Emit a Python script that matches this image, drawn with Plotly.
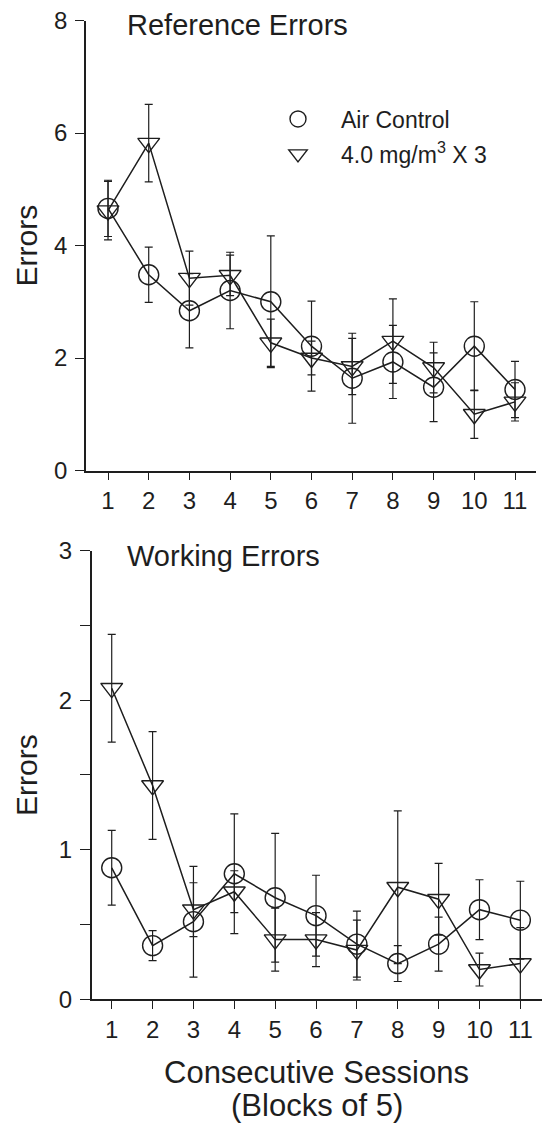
import plotly.graph_objects as go

W, H = 542, 1123

sessions = [1, 2, 3, 4, 5, 6, 7, 8, 9, 10, 11]
tick_labels = ["1", "2", "3", "4", "5", "6", "7", "8", "9", "10", "11"]

# Reference errors
ref_air = [4.66, 3.48, 2.84, 3.20, 3.00, 2.21, 1.64, 1.93, 1.48, 2.21, 1.44]
ref_air_err = [0.50, 0.49, 0.66, 0.68, 1.17, 0.80, 0.80, 0.65, 0.61, 0.79, 0.50]
ref_exp = [4.62, 5.82, 3.42, 3.47, 2.27, 2.00, 1.85, 2.30, 1.83, 1.00, 1.22]
ref_exp_err = [0.52, 0.69, 0.48, 0.36, 0.42, 0.30, 0.50, 0.75, 0.45, 0.43, 0.34]

# Working errors
work_air = [0.88, 0.36, 0.52, 0.84, 0.68, 0.56, 0.37, 0.24, 0.37, 0.60, 0.53]
work_air_err = [0.25, 0.10, 0.37, 0.40, 0.43, 0.27, 0.22, 0.12, 0.18, 0.20, 0.26]
work_exp = [2.08, 1.43, 0.60, 0.72, 0.40, 0.40, 0.33, 0.75, 0.67, 0.20, 0.24]
work_exp_err = [0.36, 0.36, 0.18, 0.14, 0.21, 0.18, 0.20, 0.51, 0.24, 0.11, 0.24]

name_air = "Air Control"
name_exp = "4.0 mg/m<sup>3</sup> X 3"

INK = "#1e1e1e"
FONT = "Liberation Sans, Arial, sans-serif"

# small vertical correction for the capture
MID, K = 561.5, 0.976

def px_x(p):
    return p / W

def px_y(p):
    q = MID + (p - MID) / K
    return 1 - q / H

fig = go.Figure()

def add_series(x, y, err, symbol, size, xa, ya):
    fig.add_trace(go.Scatter(
        x=x, y=y, mode="lines+markers", xaxis=xa, yaxis=ya, showlegend=False,
        line=dict(color=INK, width=1.5),
        marker=dict(symbol=symbol, size=size, color=INK, line=dict(color=INK, width=1.4)),
        error_y=dict(type="data", array=err, visible=True, color=INK, thickness=1.2, width=4),
    ))

add_series(sessions, ref_air, ref_air_err, "circle-open", 20, "x", "y")
add_series(sessions, ref_exp, ref_exp_err, "triangle-down-open", 19, "x", "y")
add_series(sessions, work_air, work_air_err, "circle-open", 20, "x2", "y2")
add_series(sessions, work_exp, work_exp_err, "triangle-down-open", 19, "x2", "y2")

# legend entries (markers only)
fig.add_trace(go.Scatter(x=[None], y=[None], mode="markers", name=name_air, legendgroup="a",
                         marker=dict(symbol="circle-open", size=20, color=INK, line=dict(color=INK, width=1.4))))
fig.add_trace(go.Scatter(x=[None], y=[None], mode="markers", name=name_exp, legendgroup="b",
                         marker=dict(symbol="triangle-down-open", size=20, color=INK, line=dict(color=INK, width=1.4))))

axis_common = dict(
    showline=True, linecolor=INK, linewidth=1.5, mirror=False,
    ticks="outside", tickwidth=1.3, tickcolor=INK,
    showgrid=False, zeroline=False,
    tickfont=dict(family=FONT, size=24, color=INK),
)

fig.update_layout(
    width=W, height=H, autosize=False,
    margin=dict(l=0, r=0, t=0, b=0),
    paper_bgcolor="white", plot_bgcolor="white",
    font=dict(family=FONT, color=INK),
    xaxis=dict(axis_common, domain=[px_x(86), px_x(536)], range=[0.459, 11.516],
               tickvals=sessions, ticktext=tick_labels, anchor="y", ticklen=8,
               ticklabelstandoff=0),
    yaxis=dict(axis_common, domain=[px_y(470), px_y(20)], range=[0, 8],
               tickvals=[0, 2, 4, 6, 8], anchor="x", ticklen=9, ticklabelstandoff=3),
    xaxis2=dict(axis_common, domain=[px_x(91.7), 1.0], range=[0.51, 11.53],
                tickvals=sessions, ticktext=tick_labels, anchor="y2", ticklen=8,
                ticklabelstandoff=0),
    yaxis2=dict(axis_common, domain=[px_y(999), px_y(550)], range=[0, 3],
                tickvals=[0, 1, 2, 3], anchor="x2", ticklen=10, ticklabelstandoff=3,
                minor=dict(tickvals=[0.5, 1.5, 2.5], ticks="outside", ticklen=10,
                           tickwidth=1.3, tickcolor=INK)),
    legend=dict(x=px_x(255), y=px_y(97), xanchor="left", yanchor="top",
                bgcolor="rgba(0,0,0,0)", borderwidth=0, itemwidth=76,
                font=dict(family=FONT, size=23, color=INK),
                tracegroupgap=2, itemsizing="trace"),
    annotations=[
        dict(text="Reference Errors", xref="paper", yref="paper", x=px_x(125), y=px_y(24),
             xanchor="left", yanchor="middle", showarrow=False,
             font=dict(family=FONT, size=29, color=INK)),
        dict(text="Working Errors", xref="paper", yref="paper", x=px_x(125), y=px_y(555),
             xanchor="left", yanchor="middle", showarrow=False,
             font=dict(family=FONT, size=29, color=INK)),
        dict(text="Errors", xref="paper", yref="paper", x=px_x(27), y=px_y(245),
             xanchor="center", yanchor="middle", textangle=-90, showarrow=False,
             font=dict(family=FONT, size=30, color=INK)),
        dict(text="Errors", xref="paper", yref="paper", x=px_x(27), y=px_y(774.5),
             xanchor="center", yanchor="middle", textangle=-90, showarrow=False,
             font=dict(family=FONT, size=30, color=INK)),
        dict(text="Consecutive Sessions", xref="paper", yref="paper", x=px_x(316.5), y=px_y(1072),
             xanchor="center", yanchor="middle", showarrow=False,
             font=dict(family=FONT, size=31, color=INK)),
        dict(text="(Blocks of 5)", xref="paper", yref="paper", x=px_x(316.5), y=px_y(1105),
             xanchor="center", yanchor="middle", showarrow=False,
             font=dict(family=FONT, size=31, color=INK)),
    ],
)

fig.write_html("out.html")
